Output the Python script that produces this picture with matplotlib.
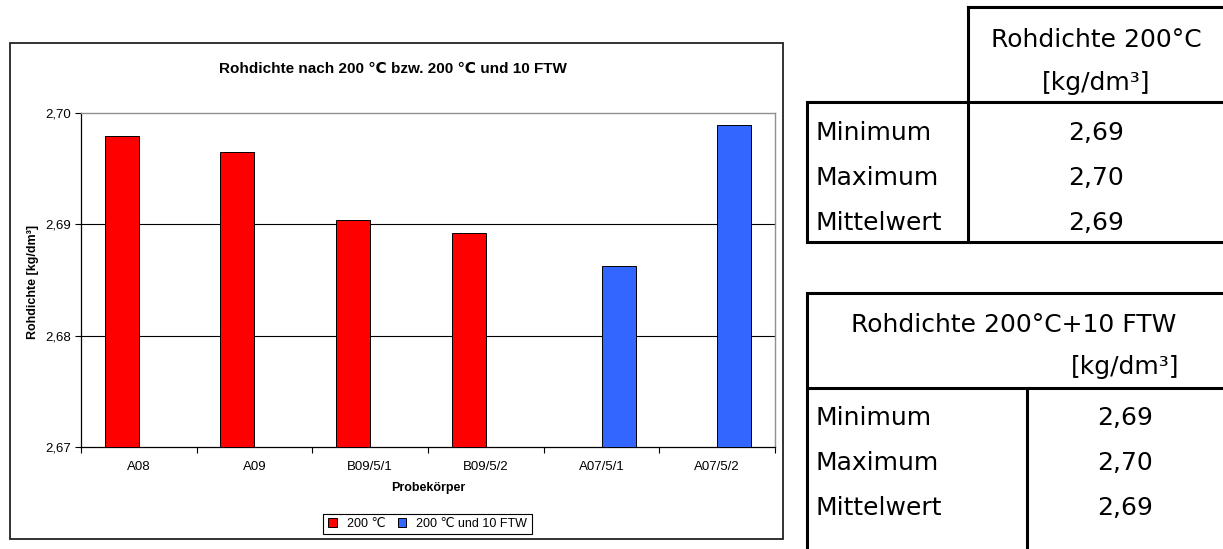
import numpy as np
import matplotlib
matplotlib.use("Agg")
import matplotlib.pyplot as plt
from matplotlib.patches import Rectangle, Patch

# Rohdichte je Probekörper [kg/dm³]
proben = ["A08", "A09", "B09/5/1", "B09/5/2", "A07/5/1", "A07/5/2"]
dichte_200 = [2.6979, 2.6965, 2.6904, 2.6892, np.nan, np.nan]
dichte_200_ftw = [np.nan, np.nan, np.nan, np.nan, 2.6863, 2.6989]
y_ticks = [2.67, 2.68, 2.69, 2.70]
stat_namen = ["Minimum", "Maximum", "Mittelwert"]

RED, BLUE = "#FF0000", "#3366FF"
W, H = 1223, 549
plt.rcParams["font.family"] = ["Liberation Sans", "DejaVu Sans"]
TAB_FONT = ["DejaVu Sans"]
TAB_SIZE = 18


def fmt(v):
    return f"{v:.2f}".replace(".", ",")


def stats(values):
    v = np.array(values, dtype=float)
    v = v[~np.isnan(v)]
    return [fmt(v.min()), fmt(v.max()), fmt(v.mean())]


fig = plt.figure(figsize=(W / 100, H / 100), dpi=100)

# overlay in pixel units for the frame, title and the two tables
ov = fig.add_axes([0, 0, 1, 1], zorder=0)
ov.set_xlim(0, W)
ov.set_ylim(H, 0)
ov.axis("off")
ov.add_patch(Rectangle((10, 43), 773, 496, fill=False, ec="#222222", lw=1.3))
ov.text(393, 69, "Rohdichte nach 200 ℃ bzw. 200 ℃ und 10 FTW",
        ha="center", va="center", fontsize=11, fontweight="bold")

# bar chart
ax = fig.add_axes([81 / W, 1 - 447 / H, 694 / W, 334 / H], zorder=1)
x = np.arange(len(proben))
bw = 0.294
ax.bar(x - bw / 2, dichte_200, bw, color=RED, edgecolor="black", lw=0.7, zorder=3)
ax.bar(x + bw / 2, dichte_200_ftw, bw, color=BLUE, edgecolor="black", lw=0.7, zorder=3)
ax.set_xlim(-0.5, len(proben) - 0.5)
ax.set_ylim(y_ticks[0], y_ticks[-1])
ax.set_yticks(y_ticks)
ax.set_yticklabels([fmt(t) for t in y_ticks], fontsize=9.5)
for t in y_ticks[1:-1]:
    ax.axhline(t, color="black", lw=0.8, zorder=1)
ax.set_xticks(np.arange(len(proben) + 1) - 0.5)
ax.set_xticklabels([])
ax.set_xticks(x, minor=True)
ax.set_xticklabels(proben, minor=True, fontsize=9.5)
ax.tick_params(axis="x", which="major", length=4, width=0.8, direction="out")
ax.tick_params(axis="x", which="minor", length=0, pad=10)
ax.tick_params(axis="y", length=4, width=0.8, pad=3)
for s in ["top", "right"]:
    ax.spines[s].set_color("#909090")
    ax.spines[s].set_linewidth(1.0)
for s in ["left", "bottom"]:
    ax.spines[s].set_linewidth(0.9)
ax.set_ylabel("Rohdichte [kg/dm³]", fontsize=9, fontweight="bold")
ax.yaxis.set_label_coords(-0.061, 0.494)
ax.set_xlabel("Probekörper", fontsize=9, fontweight="bold")
ax.xaxis.set_label_coords(0.5, -0.105)
handles = [Patch(facecolor=RED, edgecolor="black", lw=0.7),
           Patch(facecolor=BLUE, edgecolor="black", lw=0.7)]
leg = fig.legend(handles, ["200 ℃", "200 ℃ und 10 FTW"], loc="center",
                 bbox_to_anchor=(427.5 / W, 1 - 524 / H), ncol=2, fontsize=9,
                 fancybox=False, edgecolor="black", framealpha=1,
                 handlelength=0.7, handleheight=0.7, handletextpad=0.8,
                 columnspacing=1.0, borderpad=0.35)
leg.get_frame().set_linewidth(0.8)

# tables with min / max / mean
LW = 2.2
t1 = stats(dichte_200)
t2 = stats(dichte_200_ftw)


def hline(y, x0, x1):
    ov.plot([x0, x1], [y, y], color="black", lw=LW, solid_capstyle="projecting")


def vline(x, y0, y1):
    ov.plot([x, x], [y0, y1], color="black", lw=LW, solid_capstyle="projecting")


def cell(x, y, s, ha="center"):
    ov.text(x, y, s, ha=ha, va="center", fontsize=TAB_SIZE, family=TAB_FONT)


hline(7, 968, W)
hline(102, 807, W)
hline(242, 807, W)
vline(968, 7, 242)
vline(807, 102, 242)
cell(1096, 40, "Rohdichte 200°C")
cell(1096, 83, "[kg/dm³]")
for i, (name, val) in enumerate(zip(stat_namen, t1)):
    y = 133 + i * 45
    cell(816, y, name, ha="left")
    cell(1096, y, val)

hline(293, 807, W)
hline(388, 807, W)
vline(807, 293, H)
vline(1027, 388, H)
cell(1014, 325, "Rohdichte 200°C+10 FTW")
cell(1125, 367, "[kg/dm³]")
for i, (name, val) in enumerate(zip(stat_namen, t2)):
    y = 418 + i * 45
    cell(816, y, name, ha="left")
    cell(1125, y, val)

fig.savefig("out.png", dpi=100)
